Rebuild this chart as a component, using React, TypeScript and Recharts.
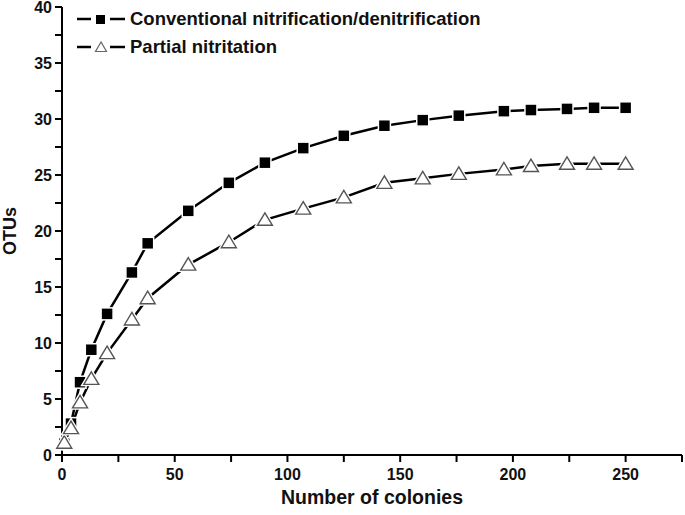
import { LineChart, Line, XAxis, YAxis, Label } from 'recharts';

const colonies = [1, 4, 8, 13, 20, 31, 38, 56, 74, 90, 107, 125, 143, 160, 176, 196, 208, 224, 236, 250];
const conventional = [1, 2.8, 6.5, 9.4, 12.6, 16.3, 18.9, 21.8, 24.3, 26.1, 27.4, 28.5, 29.4, 29.9, 30.3, 30.7, 30.8, 30.9, 31.0, 31.0];
const partial = [1.1, 2.4, 4.7, 6.8, 9.1, 12.1, 14.0, 17.0, 19.0, 21.0, 22.0, 23.0, 24.3, 24.7, 25.1, 25.5, 25.8, 26.0, 26.0, 26.0];
const xTicks = [0, 25, 50, 75, 100, 125, 150, 175, 200, 225, 250, 275];
const yTicks = [0, 2.5, 5, 7.5, 10, 12.5, 15, 17.5, 20, 22.5, 25, 27.5, 30, 32.5, 35, 37.5, 40];

const data = colonies.map((c, i) => ({ c, conv: conventional[i], part: partial[i] }));

const FONT = '"Liberation Sans", Arial, sans-serif';

const SquareDot = (p: any) => (
  <rect
    key={`s${p.index}`}
    x={p.cx - 6}
    y={p.cy - 6}
    width={12}
    height={12}
    fill="#000"
    stroke="#fff"
    strokeWidth={1.5}
  />
);

const TriDot = (p: any) => {
  const pts = `${p.cx},${p.cy - 7} ${p.cx - 7.5},${p.cy + 5.5} ${p.cx + 7.5},${p.cy + 5.5}`;
  return (
    <g key={`t${p.index}`}>
      <polygon points={pts} fill="#fff" stroke="#fff" strokeWidth={4} />
      <polygon points={pts} fill="#fff" stroke="#555" strokeWidth={1.4} />
    </g>
  );
};

const XTick = (p: any) => {
  const v = p.payload.value;
  if (v % 50 !== 0) return <g />;
  return (
    <text x={p.x} y={p.y + 16} textAnchor="middle" fontFamily={FONT} fontWeight="bold" fontSize={16} fill="#111">
      {v}
    </text>
  );
};

const YTick = (p: any) => {
  const v = p.payload.value;
  if (v % 5 !== 0) return <g />;
  return (
    <text x={p.x - 1} y={p.y + 6} textAnchor="end" fontFamily={FONT} fontWeight="bold" fontSize={16} fill="#111">
      {v}
    </text>
  );
};

const LegendBox = () => (
  <div
    style={{
      position: 'absolute',
      left: 77,
      top: 5,
      fontFamily: FONT,
      fontWeight: 'bold',
      fontSize: 18.5,
      color: '#111',
      lineHeight: '28px',
    }}
  >
    <div style={{ display: 'flex', alignItems: 'center' }}>
      <svg width={48} height={16}>
        <line x1={0} y1={8} x2={14} y2={8} stroke="#000" strokeWidth={2.5} />
        <rect x={19} y={4} width={9} height={9} fill="#000" />
        <line x1={33} y1={8} x2={48} y2={8} stroke="#000" strokeWidth={2.5} />
      </svg>
      <span style={{ marginLeft: 5 }}>Conventional nitrification/denitrification</span>
    </div>
    <div style={{ display: 'flex', alignItems: 'center' }}>
      <svg width={48} height={16}>
        <line x1={0} y1={8} x2={14} y2={8} stroke="#000" strokeWidth={2.5} />
        <polygon points="24,3 18.5,12.5 29.5,12.5" fill="#fff" stroke="#666" strokeWidth={1.2} />
        <line x1={33} y1={8} x2={48} y2={8} stroke="#000" strokeWidth={2.5} />
      </svg>
      <span style={{ marginLeft: 5 }}>Partial nitritation</span>
    </div>
  </div>
);

export default function App() {
  return (
    <div style={{ position: 'absolute', left: 0, top: 0, width: 685, height: 515, background: '#fff' }}>
      <LineChart width={685} height={515} data={data} margin={{ top: 7, right: 3, bottom: 0, left: 12 }}>
        <XAxis
          dataKey="c"
          type="number"
          domain={[0, 275]}
          ticks={xTicks}
          interval={0}
          height={60}
          axisLine={{ stroke: '#000', strokeWidth: 2 }}
          tickLine={{ stroke: '#000', strokeWidth: 2 }}
          tickSize={7}
          tick={<XTick />}
        >
          <Label
            value="Number of colonies"
            position="insideBottom"
            offset={11}
            style={{ fontFamily: FONT, fontWeight: 'bold', fontSize: 19.5, fill: '#111' }}
          />
        </XAxis>
        <YAxis
          type="number"
          domain={[0, 40]}
          ticks={yTicks}
          interval={0}
          width={50}
          axisLine={{ stroke: '#000', strokeWidth: 2 }}
          tickLine={{ stroke: '#000', strokeWidth: 2 }}
          tickSize={7}
          tick={<YTick />}
        >
          <Label
            value="OTUs"
            angle={-90}
            position="insideLeft"
            offset={-2}
            style={{ fontFamily: FONT, fontWeight: 'bold', fontSize: 18, fill: '#111', textAnchor: 'middle' }}
          />
        </YAxis>
        <Line
          dataKey="conv"
          stroke="#000"
          strokeWidth={2.5}
          dot={SquareDot}
          activeDot={false}
          isAnimationActive={false}
        />
        <Line
          dataKey="part"
          stroke="#000"
          strokeWidth={2.5}
          dot={TriDot}
          activeDot={false}
          isAnimationActive={false}
        />
      </LineChart>
      <LegendBox />
    </div>
  );
}
